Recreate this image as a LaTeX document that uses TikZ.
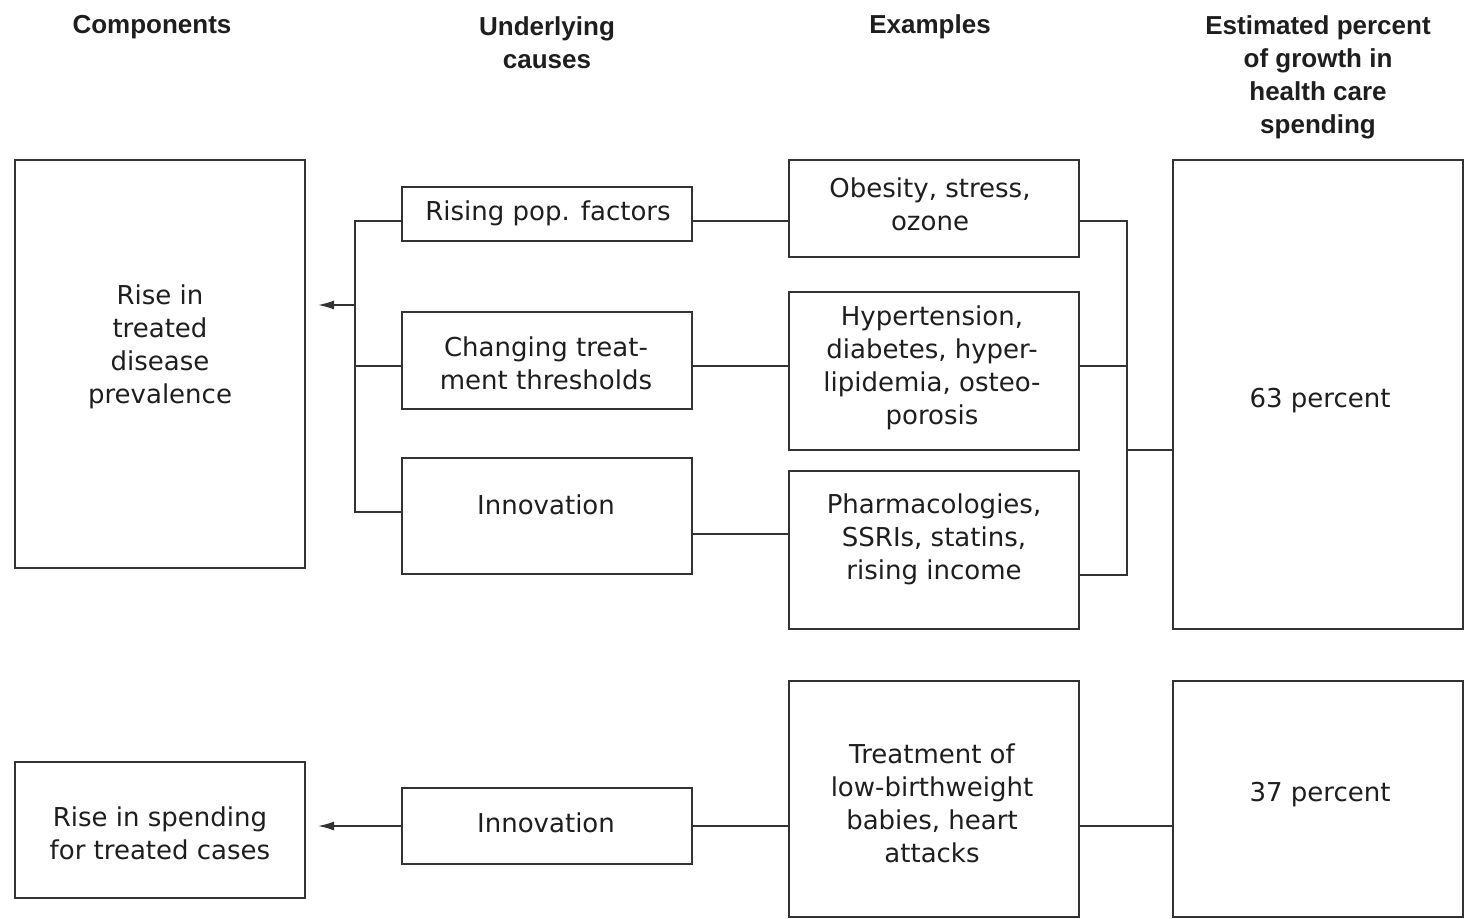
\documentclass[tikz,border=0pt]{standalone}
\usepackage{fontspec}
\setmainfont{DejaVu Sans}
\newfontfamily\headfont{Liberation Sans}
\usetikzlibrary{arrows.meta,positioning,calc}
\definecolor{lnkgrey}{HTML}{333333}
\definecolor{txtgrey}{HTML}{1E1E1E}

\begin{document}
\begin{tikzpicture}[x=0.5pt,y=-0.5pt,
  box/.style={draw=lnkgrey,line width=1pt,inner sep=0pt,minimum width=145pt},
  txt/.style={align=center,text=txtgrey,font=\fontsize{13}{16.5}\selectfont,inner sep=0pt},
  head/.style={align=center,text=txtgrey,font=\headfont\bfseries\fontsize{13}{16.5}\selectfont,inner sep=0pt},
  link/.style={draw=lnkgrey,line width=0.8pt},
  arrow/.style={link,-{Latex[length=8pt,width=4.5pt]}}]
\useasboundingbox (0,0) rectangle (1470,919);

% column headings
\node[head] (hcomp) at (152,27) {Components};
\node[head] (hcause) at (547,43) {Underlying\\causes};
\node[head] (hex) at (930,27) {Examples};
\node[head] (hpct) at (1318,77) {Estimated percent\\of growth in\\health care\\spending};

% boxes
\node[box,minimum height=204pt] (comp1) at (160,364) {};
\node[box,minimum height=68pt] (comp2) at (160,830) {};
\node[box,minimum height=27pt] (cause1) at (546.5,214) {};
\node[box,minimum height=48.5pt] (cause2) at (546.5,360.5) {};
\node[box,minimum height=58pt] (cause3) at (546.5,516) {};
\node[box,minimum height=38pt] (cause4) at (546.5,826) {};
\node[box,minimum height=48.5pt] (ex1) at (934,208.5) {};
\node[box,minimum height=79pt] (ex2) at (934,371) {};
\node[box,minimum height=79pt] (ex3) at (934,550) {};
\node[box,minimum height=118pt] (ex4) at (934,798.5) {};
\node[box,minimum height=234.5pt] (pct1) at (1318,394.5) {};
\node[box,minimum height=118pt] (pct2) at (1318,798.5) {};

% box texts
\node[txt] (comp1-t) at (160,347) {Rise in\\treated\\disease\\prevalence};
\node[txt] (comp2-t) at (160,833) {Rise in spending\\for treated cases};
\node[txt] (cause1-t) at (548,213) {Rising pop. factors};
\node[txt] (cause2-t) at (546,363) {Changing treat-\\ment thresholds};
\node[txt] (cause3-t) at (546,505) {Innovation};
\node[txt] (cause4-t) at (546,823) {Innovation};
\node[txt] (ex1-t) at (930,204) {Obesity, stress,\\ozone};
\node[txt] (ex2-t) at (932,368) {Hypertension,\\diabetes, hyper-\\lipidemia, osteo-\\porosis};
\node[txt] (ex3-t) at (934,539) {Pharmacologies,\\SSRIs, statins,\\rising income};
\node[txt] (ex4-t) at (932,803) {Treatment of\\low-birthweight\\babies, heart\\attacks};
\node[txt] (pct1-t) at (1320,401) {63 percent};
\node[txt] (pct2-t) at (1320,795) {37 percent};

% rows and brackets
\coordinate (row1) at (0,221);
\coordinate (row2) at (0,366);
\coordinate (row3) at (0,512);
\coordinate (row3b) at (0,534);
\coordinate (row4) at (0,575);
\coordinate (rowjoin) at (0,450);
\coordinate (rowarr) at (0,305);
\coordinate (brL) at (355,0);
\coordinate (brR) at (1127,0);
\coordinate (tip1) at (318,305);
\coordinate (tip2) at (318,826);

% left bracket
\draw[link] (cause1.west |- row1) -| (brL |- row3) -- (cause3.west |- row3);
\draw[link] (brL |- row2) -- (cause2.west |- row2);
\draw[arrow] (brL |- rowarr) -- (tip1);

% causes to examples
\draw[link] (cause1.east |- row1) -- (ex1.west |- row1);
\draw[link] (cause2.east |- row2) -- (ex2.west |- row2);
\draw[link] (cause3.east |- row3b) -- (ex3.west |- row3b);

% right bracket
\draw[link] (ex1.east |- row1) -| (brR |- row4) -- (ex3.east |- row4);
\draw[link] (ex2.east |- row2) -- (brR |- row2);
\draw[link] (brR |- rowjoin) -- (pct1.west |- rowjoin);

% lower chain
\draw[arrow] (cause4.west) -- (tip2);
\draw[link] (cause4.east) -- (ex4.west |- cause4.east);
\draw[link] (ex4.east |- cause4.east) -- (pct2.west |- cause4.east);
\end{tikzpicture}
\end{document}
